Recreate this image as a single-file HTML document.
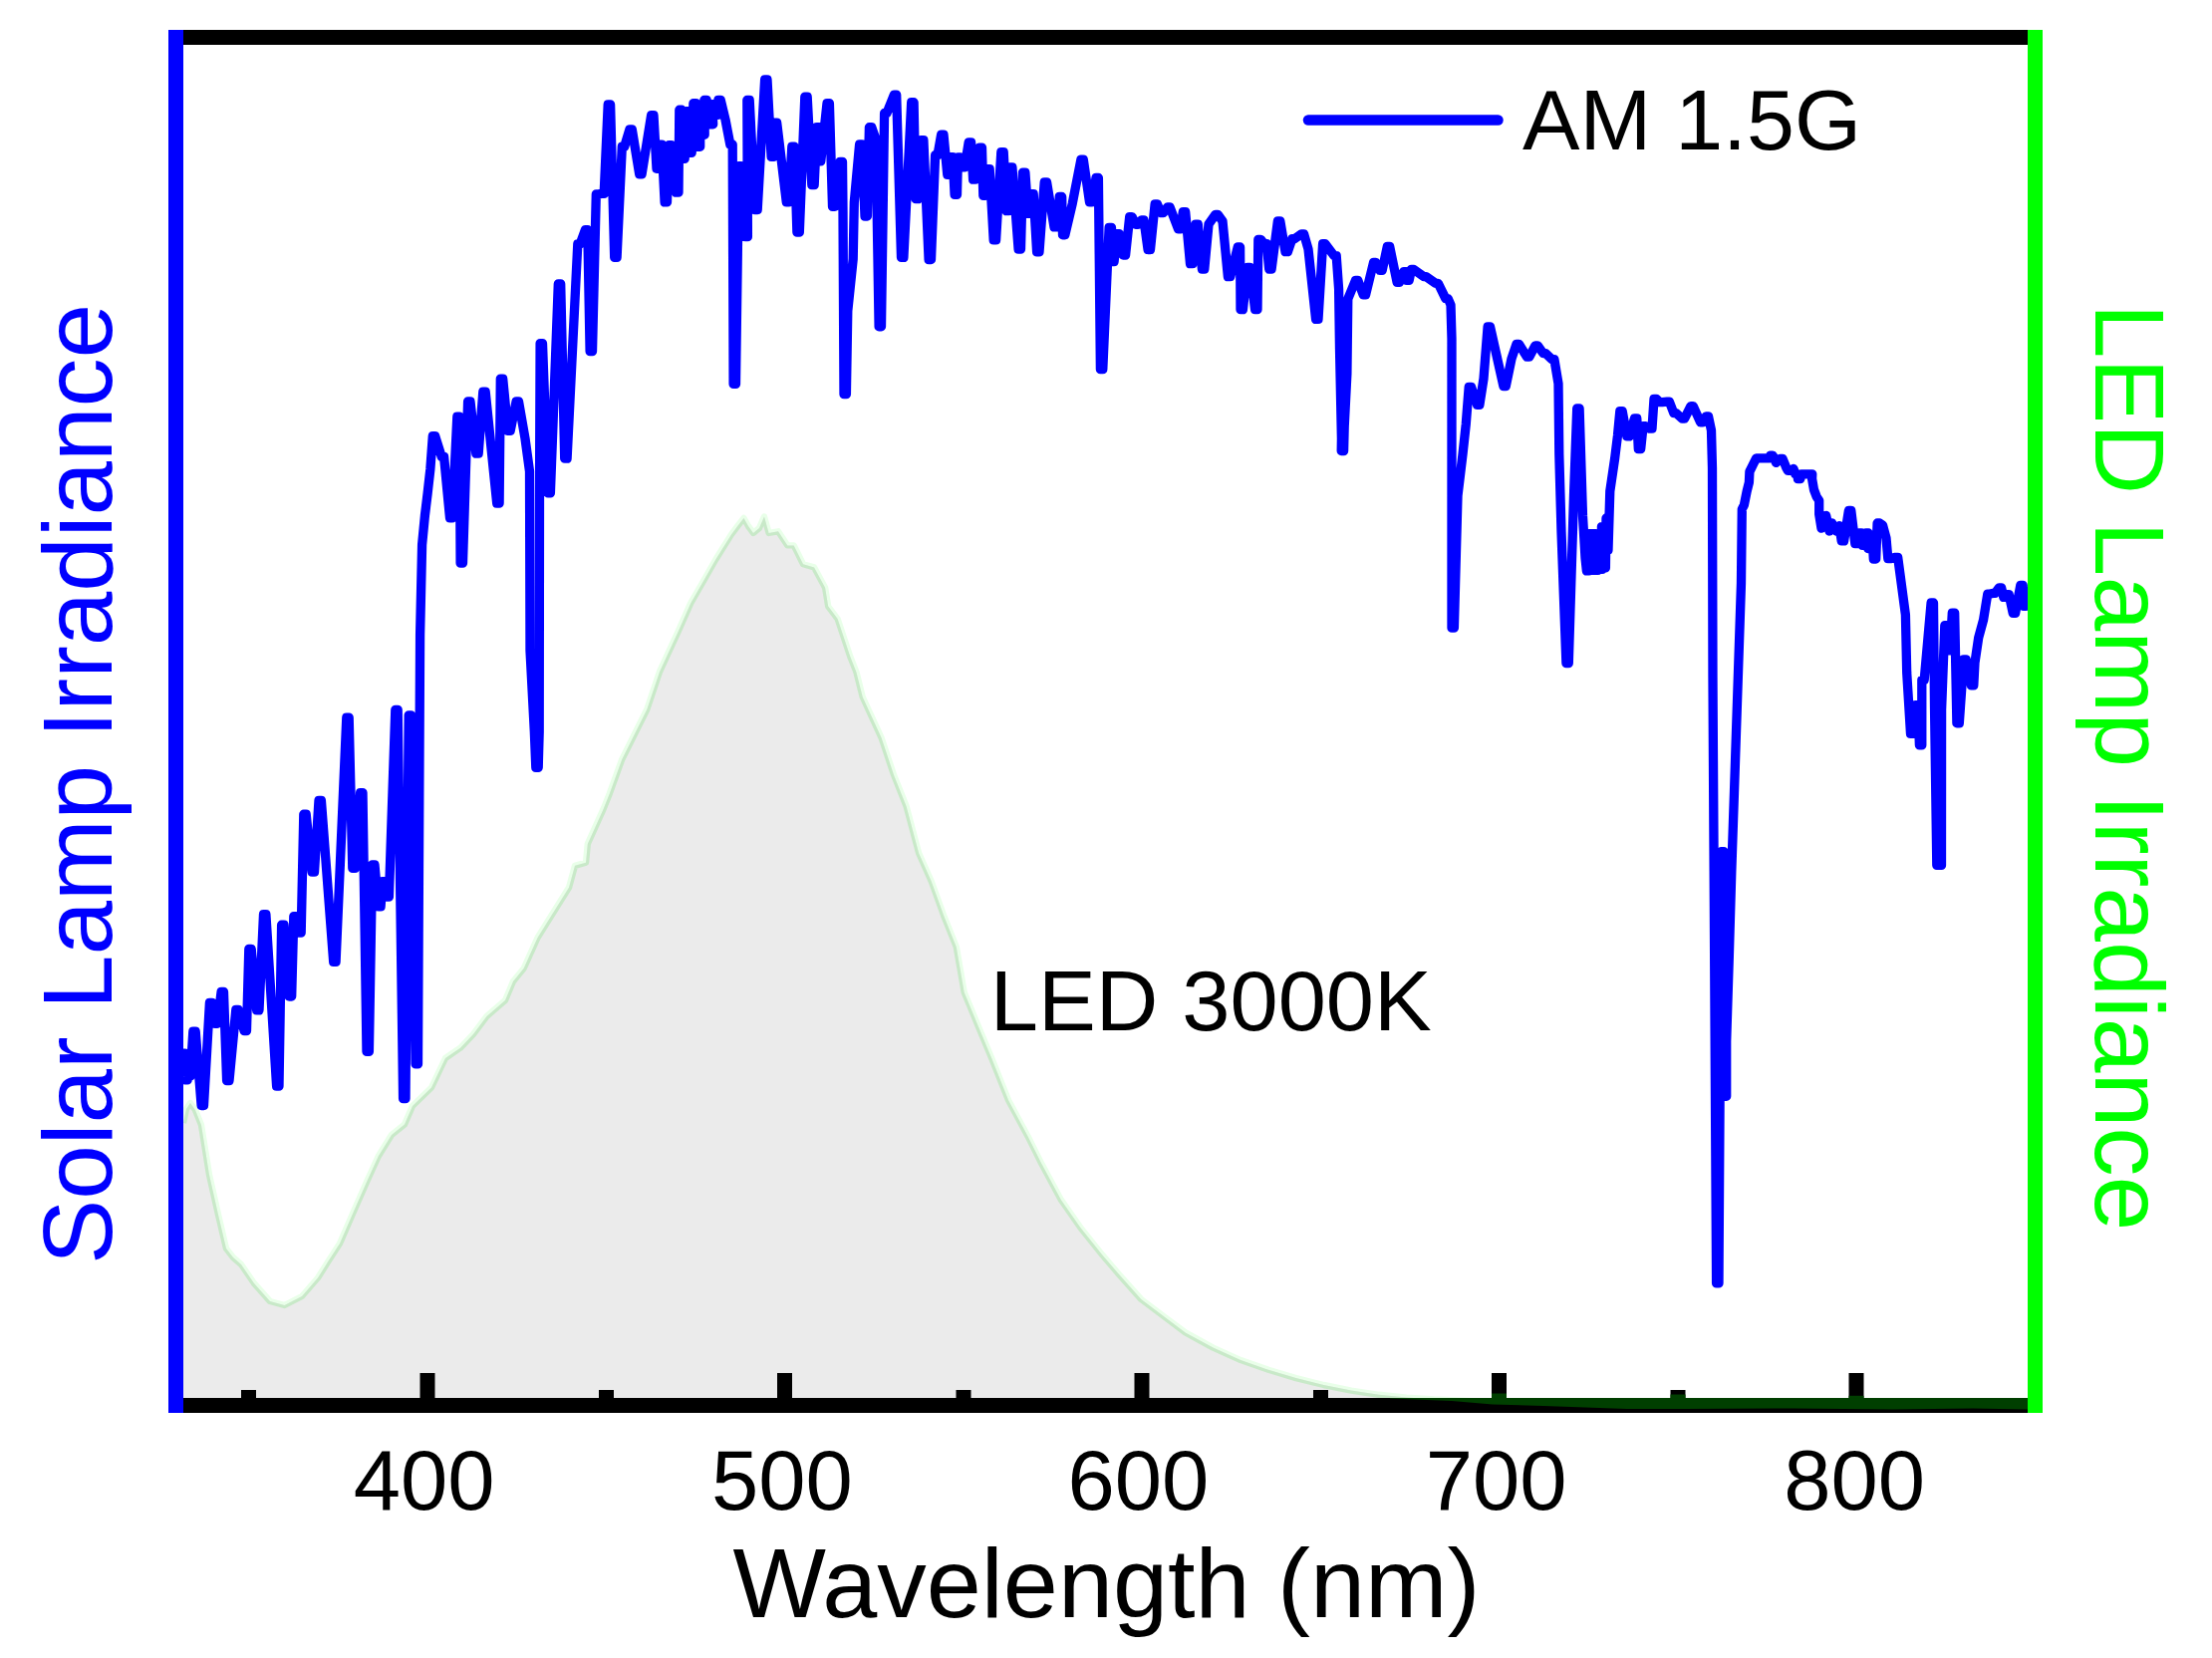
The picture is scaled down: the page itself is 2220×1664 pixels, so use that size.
<!DOCTYPE html>
<html lang="en"><head><meta charset="utf-8"><title>AM 1.5G vs LED 3000K spectrum</title>
<style>html,body{margin:0;padding:0;background:#fff;}body{width:2220px;height:1664px;overflow:hidden;}</style></head>
<body>
<svg width="2220" height="1664" viewBox="0 0 2220 1664" style="display:block">
<rect x="0" y="0" width="2220" height="1664" fill="#ffffff"/>
<defs><clipPath id="plot"><rect x="180" y="40" width="1860" height="1378"/></clipPath><clipPath id="under"><path d="M180,1127 L184.0,1127.0 L187.0,1113.0 L191.0,1107.0 L196.0,1114.0 L202.0,1129.0 L210.0,1179.0 L219.0,1219.0 L227.0,1253.0 L234.0,1262.0 L242.0,1269.0 L255.0,1288.0 L271.0,1306.0 L285.5,1310.0 L303.0,1301.0 L319.0,1282.5 L329.0,1266.6 L341.0,1248.0 L356.0,1213.5 L369.0,1184.0 L379.7,1160.5 L393.0,1139.0 L406.0,1128.6 L414.0,1110.0 L433.0,1091.5 L447.0,1062.0 L462.0,1051.7 L475.0,1038.0 L488.5,1020.0 L507.0,1004.0 L515.0,985.0 L525.6,972.0 L539.6,941.0 L571.0,890.8 L577.0,868.8 L588.0,865.7 L589.8,846.9 L605.4,812.4 L611.7,796.7 L624.2,762.2 L636.8,737.0 L649.3,712.0 L661.9,674.4 L680.7,633.7 L693.2,605.4 L705.8,583.5 L718.3,561.5 L734.0,536.4 L741.0,527.0 L746.5,520.0 L751.0,528.0 L756.0,534.9 L762.0,530.0 L767.0,518.5 L771.6,534.9 L781.0,533.3 L790.4,547.4 L796.7,547.4 L806.1,566.2 L817.1,569.4 L828.1,589.8 L831.2,608.6 L840.6,621.1 L853.2,658.7 L859.4,674.4 L865.7,699.5 L884.5,740.3 L897.1,777.9 L909.6,809.3 L922.1,856.3 L934.7,884.5 L947.2,919.0 L959.8,950.4 L967.7,996.0 L981.6,1029.4 L995.5,1062.7 L1012.1,1104.3 L1031.6,1140.4 L1045.4,1168.1 L1064.9,1204.2 L1084.3,1231.9 L1106.5,1259.7 L1123.1,1279.1 L1145.3,1304.0 L1167.5,1320.7 L1189.7,1337.4 L1217.5,1352.6 L1245.2,1365.1 L1273.0,1374.8 L1300.7,1383.1 L1328.5,1390.0 L1356.2,1395.6 L1384.0,1399.8 L1411.7,1402.6 L1439.5,1404.5 L1495.0,1407.0 L1600.0,1408.5 L1800.0,1409.0 L2036.0,1409.0 L2040,1409 L2040,1410 L180,1410 Z"/></clipPath></defs>
<g clip-path="url(#plot)">
<path d="M184.0,1127.0 L187.0,1113.0 L191.0,1107.0 L196.0,1114.0 L202.0,1129.0 L210.0,1179.0 L219.0,1219.0 L227.0,1253.0 L234.0,1262.0 L242.0,1269.0 L255.0,1288.0 L271.0,1306.0 L285.5,1310.0 L303.0,1301.0 L319.0,1282.5 L329.0,1266.6 L341.0,1248.0 L356.0,1213.5 L369.0,1184.0 L379.7,1160.5 L393.0,1139.0 L406.0,1128.6 L414.0,1110.0 L433.0,1091.5 L447.0,1062.0 L462.0,1051.7 L475.0,1038.0 L488.5,1020.0 L507.0,1004.0 L515.0,985.0 L525.6,972.0 L539.6,941.0 L571.0,890.8 L577.0,868.8 L588.0,865.7 L589.8,846.9 L605.4,812.4 L611.7,796.7 L624.2,762.2 L636.8,737.0 L649.3,712.0 L661.9,674.4 L680.7,633.7 L693.2,605.4 L705.8,583.5 L718.3,561.5 L734.0,536.4 L741.0,527.0 L746.5,520.0 L751.0,528.0 L756.0,534.9 L762.0,530.0 L767.0,518.5 L771.6,534.9 L781.0,533.3 L790.4,547.4 L796.7,547.4 L806.1,566.2 L817.1,569.4 L828.1,589.8 L831.2,608.6 L840.6,621.1 L853.2,658.7 L859.4,674.4 L865.7,699.5 L884.5,740.3 L897.1,777.9 L909.6,809.3 L922.1,856.3 L934.7,884.5 L947.2,919.0 L959.8,950.4 L967.7,996.0 L981.6,1029.4 L995.5,1062.7 L1012.1,1104.3 L1031.6,1140.4 L1045.4,1168.1 L1064.9,1204.2 L1084.3,1231.9 L1106.5,1259.7 L1123.1,1279.1 L1145.3,1304.0 L1167.5,1320.7 L1189.7,1337.4 L1217.5,1352.6 L1245.2,1365.1 L1273.0,1374.8 L1300.7,1383.1 L1328.5,1390.0 L1356.2,1395.6 L1384.0,1399.8 L1411.7,1402.6 L1439.5,1404.5 L1495.0,1407.0 L1600.0,1408.5 L1800.0,1409.0 L2036.0,1409.0" fill="none" stroke="#e9ffe9" stroke-width="6.4" stroke-linejoin="round"/>
<path d="M180,1127 L184.0,1127.0 L187.0,1113.0 L191.0,1107.0 L196.0,1114.0 L202.0,1129.0 L210.0,1179.0 L219.0,1219.0 L227.0,1253.0 L234.0,1262.0 L242.0,1269.0 L255.0,1288.0 L271.0,1306.0 L285.5,1310.0 L303.0,1301.0 L319.0,1282.5 L329.0,1266.6 L341.0,1248.0 L356.0,1213.5 L369.0,1184.0 L379.7,1160.5 L393.0,1139.0 L406.0,1128.6 L414.0,1110.0 L433.0,1091.5 L447.0,1062.0 L462.0,1051.7 L475.0,1038.0 L488.5,1020.0 L507.0,1004.0 L515.0,985.0 L525.6,972.0 L539.6,941.0 L571.0,890.8 L577.0,868.8 L588.0,865.7 L589.8,846.9 L605.4,812.4 L611.7,796.7 L624.2,762.2 L636.8,737.0 L649.3,712.0 L661.9,674.4 L680.7,633.7 L693.2,605.4 L705.8,583.5 L718.3,561.5 L734.0,536.4 L741.0,527.0 L746.5,520.0 L751.0,528.0 L756.0,534.9 L762.0,530.0 L767.0,518.5 L771.6,534.9 L781.0,533.3 L790.4,547.4 L796.7,547.4 L806.1,566.2 L817.1,569.4 L828.1,589.8 L831.2,608.6 L840.6,621.1 L853.2,658.7 L859.4,674.4 L865.7,699.5 L884.5,740.3 L897.1,777.9 L909.6,809.3 L922.1,856.3 L934.7,884.5 L947.2,919.0 L959.8,950.4 L967.7,996.0 L981.6,1029.4 L995.5,1062.7 L1012.1,1104.3 L1031.6,1140.4 L1045.4,1168.1 L1064.9,1204.2 L1084.3,1231.9 L1106.5,1259.7 L1123.1,1279.1 L1145.3,1304.0 L1167.5,1320.7 L1189.7,1337.4 L1217.5,1352.6 L1245.2,1365.1 L1273.0,1374.8 L1300.7,1383.1 L1328.5,1390.0 L1356.2,1395.6 L1384.0,1399.8 L1411.7,1402.6 L1439.5,1404.5 L1495.0,1407.0 L1600.0,1408.5 L1800.0,1409.0 L2036.0,1409.0 L2040,1409 L2040,1410 L180,1410 Z" fill="#ebebeb"/>
<path d="M184.0,1127.0 L187.0,1113.0 L191.0,1107.0 L196.0,1114.0 L202.0,1129.0 L210.0,1179.0 L219.0,1219.0 L227.0,1253.0 L234.0,1262.0 L242.0,1269.0 L255.0,1288.0 L271.0,1306.0 L285.5,1310.0 L303.0,1301.0 L319.0,1282.5 L329.0,1266.6 L341.0,1248.0 L356.0,1213.5 L369.0,1184.0 L379.7,1160.5 L393.0,1139.0 L406.0,1128.6 L414.0,1110.0 L433.0,1091.5 L447.0,1062.0 L462.0,1051.7 L475.0,1038.0 L488.5,1020.0 L507.0,1004.0 L515.0,985.0 L525.6,972.0 L539.6,941.0 L571.0,890.8 L577.0,868.8 L588.0,865.7 L589.8,846.9 L605.4,812.4 L611.7,796.7 L624.2,762.2 L636.8,737.0 L649.3,712.0 L661.9,674.4 L680.7,633.7 L693.2,605.4 L705.8,583.5 L718.3,561.5 L734.0,536.4 L741.0,527.0 L746.5,520.0 L751.0,528.0 L756.0,534.9 L762.0,530.0 L767.0,518.5 L771.6,534.9 L781.0,533.3 L790.4,547.4 L796.7,547.4 L806.1,566.2 L817.1,569.4 L828.1,589.8 L831.2,608.6 L840.6,621.1 L853.2,658.7 L859.4,674.4 L865.7,699.5 L884.5,740.3 L897.1,777.9 L909.6,809.3 L922.1,856.3 L934.7,884.5 L947.2,919.0 L959.8,950.4 L967.7,996.0 L981.6,1029.4 L995.5,1062.7 L1012.1,1104.3 L1031.6,1140.4 L1045.4,1168.1 L1064.9,1204.2 L1084.3,1231.9 L1106.5,1259.7 L1123.1,1279.1 L1145.3,1304.0 L1167.5,1320.7 L1189.7,1337.4 L1217.5,1352.6 L1245.2,1365.1 L1273.0,1374.8 L1300.7,1383.1 L1328.5,1390.0 L1356.2,1395.6 L1384.0,1399.8 L1411.7,1402.6 L1439.5,1404.5 L1495.0,1407.0 L1600.0,1408.5 L1800.0,1409.0 L2036.0,1409.0" fill="none" stroke="#c8e9c8" stroke-width="6.4" stroke-linejoin="round" clip-path="url(#under)"/>
</g>
<rect x="184" y="1403" width="1852" height="15" fill="#000"/>
<rect x="421.5" y="1378" width="15" height="26" fill="#000"/>
<rect x="780.0" y="1378" width="15" height="26" fill="#000"/>
<rect x="1138.5" y="1378" width="15" height="26" fill="#000"/>
<rect x="1497.0" y="1378" width="15" height="26" fill="#000"/>
<rect x="1855.5" y="1378" width="15" height="26" fill="#000"/>
<rect x="242.0" y="1395" width="15" height="9" fill="#000"/>
<rect x="601.0" y="1395" width="15" height="9" fill="#000"/>
<rect x="959.5" y="1395" width="15" height="9" fill="#000"/>
<rect x="1318.0" y="1395" width="15" height="9" fill="#000"/>
<rect x="1676.5" y="1395" width="15" height="9" fill="#000"/>
<path d="M1395,1403 L2036,1403 L2036,1414.5 L1980,1413.5 L1900,1414.5 L1800,1413.5 L1690,1414 L1633,1414 L1549,1411 L1498,1409.5 L1457,1406 L1395,1403.5 Z" fill="#003f00"/>
<rect x="1497" y="1398.5" width="15" height="5" fill="#003f00"/>
<rect x="1676.5" y="1399.5" width="15" height="4" fill="#003f00"/>
<rect x="1855.5" y="1400.8" width="15" height="2.7" fill="#003f00"/>
<g clip-path="url(#plot)">
<path d="M182.0,1080.0 L183.3,1057.2 L185.7,1057.2 L185.8,1083.9 L188.2,1083.9 L188.3,1058.7 L190.7,1058.7 L191.0,1080.0 L193.8,1035.2 L196.2,1035.2 L202.1,1109.5 L204.5,1109.5 L210.4,1006.5 L212.8,1006.5 L215.8,1027.3 L218.2,1027.3 L222.1,995.4 L224.5,995.4 L227.6,1084.6 L230.0,1084.6 L236.8,1013.4 L239.2,1013.4 L245.1,1034.6 L247.5,1034.6 L249.8,952.4 L252.2,952.4 L257.6,1013.9 L260.0,1013.9 L264.5,917.6 L266.9,917.6 L277.6,1090.1 L280.0,1090.1 L282.6,928.2 L285.0,928.2 L290.3,1000.0 L292.7,1000.0 L294.8,919.6 L297.2,919.6 L299.8,936.1 L302.2,936.1 L304.8,817.2 L307.2,817.2 L313.1,875.1 L315.5,875.1 L320.0,803.4 L322.4,803.4 L334.7,965.4 L337.1,965.4 L347.8,720.1 L350.2,720.1 L353.8,871.4 L356.2,871.4 L361.6,795.6 L364.0,795.6 L368.0,1055.4 L370.4,1055.4 L373.6,867.8 L376.0,867.8 L379.7,909.9 L382.1,909.9 L383.8,884.6 L386.2,884.6 L388.0,900.1 L390.4,900.1 L396.8,712.4 L399.2,712.4 L404.6,1102.6 L407.0,1102.6 L410.2,717.9 L412.6,717.9 L417.1,1067.9 L419.5,1067.9 L421.6,637.0 L423.6,546.7 L426.4,517.6 L429.1,495.4 L431.9,470.4 L434.3,437.6 L436.7,437.6 L443.2,458.4 L445.6,458.4 L451.5,519.9 L453.9,519.9 L458.8,418.1 L461.2,418.1 L462.1,565.1 L464.5,565.1 L469.6,402.9 L472.0,402.9 L477.8,455.2 L480.2,455.2 L484.8,393.2 L487.2,393.2 L498.7,505.2 L501.1,505.2 L502.3,380.1 L504.7,380.1 L509.8,432.4 L512.2,432.4 L518.1,402.9 L520.5,402.9 L527.0,440.0 L531.5,473.0 L532.0,653.0 L536.3,734.0 L537.8,770.4 L540.2,770.4 L541.2,734.0 L541.5,498.0 L542.1,344.6 L544.5,344.6 L550.0,494.9 L552.4,494.9 L560.3,284.9 L562.7,284.9 L566.7,460.2 L569.1,460.2 L579.8,244.8 L582.2,244.8 L587.4,230.7 L589.8,230.7 L592.1,352.7 L594.5,352.7 L598.3,194.8 L600.7,194.8 L603.8,194.3 L606.2,194.3 L610.2,104.9 L612.6,104.9 L616.7,258.4 L619.1,258.4 L624.3,147.2 L626.7,147.2 L631.9,129.8 L634.3,129.8 L641.7,174.8 L644.1,174.8 L653.6,115.7 L656.0,115.7 L659.0,169.3 L661.4,169.3 L661.8,145.1 L664.2,145.1 L667.1,202.9 L669.5,202.9 L671.3,145.7 L673.7,145.7 L678.6,193.2 L681.0,193.2 L681.8,110.2 L684.2,110.2 L684.8,159.3 L687.2,159.3 L688.8,111.7 L691.2,111.7 L691.8,153.3 L694.2,153.3 L695.9,103.7 L698.3,103.7 L700.3,147.3 L702.7,147.3 L702.8,105.7 L705.2,105.7 L704.8,135.3 L707.2,135.3 L706.8,100.5 L709.2,100.5 L713.3,124.8 L715.7,124.8 L714.8,104.7 L717.2,104.7 L717.8,115.3 L720.2,115.3 L720.9,100.5 L723.3,100.5 L728.0,120.0 L732.8,145.0 L735.2,145.0 L736.1,385.4 L738.5,385.4 L741.5,166.7 L743.9,166.7 L748.0,237.7 L750.4,237.7 L749.8,100.5 L752.2,100.5 L757.8,210.5 L760.2,210.5 L767.6,79.9 L770.0,79.9 L774.1,157.3 L776.5,157.3 L777.3,123.2 L779.7,123.2 L789.3,202.9 L791.7,202.9 L794.8,147.2 L797.2,147.2 L799.9,233.2 L802.3,233.2 L807.8,97.2 L810.2,97.2 L814.8,185.5 L817.2,185.5 L819.8,127.7 L822.2,127.7 L821.4,161.8 L823.8,161.8 L830.0,103.7 L832.4,103.7 L835.5,207.3 L837.9,207.3 L843.1,162.3 L845.5,162.3 L846.0,212.0 L847.0,395.7 L849.4,395.7 L850.8,312.0 L856.2,260.0 L857.3,203.0 L862.6,145.0 L865.0,145.0 L868.0,217.0 L870.4,217.0 L872.4,127.7 L874.8,127.7 L879.0,140.0 L882.1,327.8 L884.5,327.8 L887.6,113.5 L890.0,113.5 L897.3,95.1 L899.7,95.1 L904.5,258.4 L906.9,258.4 L914.7,102.7 L917.1,102.7 L919.0,199.7 L921.4,199.7 L924.5,140.7 L926.9,140.7 L932.1,260.5 L934.5,260.5 L938.6,155.7 L941.0,155.7 L944.6,135.2 L947.0,135.2 L950.8,175.3 L953.2,175.3 L953.8,157.7 L956.2,157.7 L958.1,195.3 L960.5,195.3 L961.4,158.0 L963.8,158.0 L965.8,167.8 L968.2,167.8 L972.2,142.8 L974.6,142.8 L976.6,180.2 L979.0,180.2 L983.1,148.2 L985.5,148.2 L986.8,196.3 L989.2,196.3 L990.8,169.7 L993.2,169.7 L997.2,240.9 L999.6,240.9 L1004.8,152.6 L1007.2,152.6 L1010.2,211.7 L1012.6,211.7 L1013.5,167.8 L1015.9,167.8 L1022.1,250.2 L1024.5,250.2 L1026.5,173.2 L1028.9,173.2 L1031.8,214.3 L1034.2,214.3 L1034.8,194.7 L1037.2,194.7 L1040.6,252.8 L1043.0,252.8 L1048.2,183.0 L1050.6,183.0 L1058.0,227.9 L1060.4,227.9 L1063.3,197.5 L1065.7,197.5 L1066.5,235.8 L1068.9,235.8 L1076.3,204.2 L1084.9,160.1 L1087.3,160.1 L1093.5,202.8 L1095.9,202.8 L1100.0,178.5 L1102.4,178.5 L1104.4,370.6 L1106.8,370.6 L1113.1,228.3 L1115.5,228.3 L1115.7,262.5 L1118.1,262.5 L1120.8,234.7 L1123.2,234.7 L1127.2,256.0 L1129.6,256.0 L1133.7,217.6 L1136.1,217.6 L1139.8,225.3 L1142.2,225.3 L1145.6,220.8 L1148.0,220.8 L1152.1,250.5 L1154.5,250.5 L1159.1,205.0 L1161.5,205.0 L1165.2,213.7 L1167.6,213.7 L1171.7,207.8 L1174.1,207.8 L1182.5,229.9 L1184.9,229.9 L1187.3,212.6 L1189.7,212.6 L1194.5,264.7 L1196.9,264.7 L1199.9,225.2 L1202.3,225.2 L1206.4,270.1 L1208.8,270.1 L1213.0,225.0 L1219.9,215.3 L1222.3,215.3 L1227.0,222.0 L1232.4,277.7 L1234.8,277.7 L1242.2,248.0 L1244.6,248.0 L1245.0,310.7 L1247.4,310.7 L1252.0,268.5 L1254.4,268.5 L1259.6,310.7 L1262.0,310.7 L1262.8,240.3 L1265.2,240.3 L1268.8,244.7 L1271.2,244.7 L1273.7,270.1 L1276.1,270.1 L1282.4,221.8 L1284.8,221.8 L1290.0,252.7 L1292.4,252.7 L1296.8,239.7 L1299.2,239.7 L1306.2,234.8 L1308.6,234.8 L1313.0,250.0 L1320.6,320.4 L1323.0,320.4 L1327.6,244.7 L1330.0,244.7 L1338.8,256.6 L1341.2,256.6 L1343.6,290.0 L1344.5,350.0 L1346.4,440.0 L1346.2,452.6 L1348.6,452.6 L1349.2,428.0 L1351.9,375.0 L1352.8,300.0 L1360.4,281.5 L1362.8,281.5 L1368.2,295.9 L1370.6,295.9 L1378.5,263.5 L1380.9,263.5 L1384.8,271.4 L1387.2,271.4 L1392.3,247.5 L1394.7,247.5 L1402.1,283.4 L1404.5,283.4 L1408.8,272.6 L1411.2,272.6 L1411.8,281.4 L1414.2,281.4 L1416.5,270.4 L1418.9,270.4 L1428.8,277.6 L1431.2,277.6 L1440.9,284.3 L1443.3,284.3 L1450.8,299.6 L1453.2,299.6 L1456.0,306.0 L1457.0,340.0 L1457.0,630.2 L1459.4,630.2 L1463.0,497.5 L1468.0,456.0 L1471.3,425.4 L1474.2,388.4 L1476.6,388.4 L1482.5,406.4 L1484.9,406.4 L1489.0,380.0 L1493.1,327.8 L1495.5,327.8 L1508.9,387.5 L1511.3,387.5 L1517.0,360.0 L1522.0,345.3 L1524.4,345.3 L1532.5,358.2 L1534.9,358.2 L1540.8,346.8 L1543.2,346.8 L1548.8,354.6 L1551.2,354.6 L1557.5,360.6 L1559.9,360.6 L1564.0,385.0 L1564.8,456.0 L1567.0,533.6 L1571.9,665.6 L1574.3,665.6 L1579.5,497.5 L1582.7,409.8 L1585.1,409.8 L1588.5,518.0 L1591.0,560.0 L1592.4,572.9 L1594.8,572.9 L1594.8,535.6 L1597.2,535.6 L1597.0,572.4 L1599.4,572.4 L1599.2,535.6 L1601.6,535.6 L1601.4,572.4 L1603.8,572.4 L1603.6,535.6 L1606.0,535.6 L1605.8,571.4 L1608.2,571.4 L1607.4,528.6 L1609.8,528.6 L1609.0,569.9 L1611.4,569.9 L1612.0,520.0 L1614.0,552.0 L1615.8,493.0 L1620.7,459.7 L1623.5,437.0 L1625.8,412.6 L1628.2,412.6 L1632.8,437.9 L1635.2,437.9 L1640.4,420.0 L1642.8,420.0 L1644.3,450.5 L1646.7,450.5 L1649.1,427.6 L1651.5,427.6 L1655.6,430.2 L1658.0,430.2 L1660.0,400.4 L1662.4,400.4 L1665.8,403.6 L1668.2,403.6 L1673.0,403.2 L1675.4,403.2 L1679.8,414.6 L1682.2,414.6 L1688.2,420.1 L1690.6,420.1 L1696.9,407.6 L1699.3,407.6 L1706.6,423.8 L1709.0,423.8 L1712.1,417.8 L1714.5,417.8 L1717.5,432.0 L1718.5,470.0 L1719.0,680.0 L1722.6,1287.9 L1725.0,1287.9 L1727.6,854.6 L1730.0,854.6 L1730.3,1100.3 L1732.7,1100.3 L1732.7,1045.0 L1735.4,958.0 L1737.8,875.0 L1740.5,795.0 L1743.5,705.0 L1747.5,585.0 L1748.3,511.0 L1750.4,506.9 L1753.1,493.3 L1755.4,484.2 L1755.9,473.4 L1759.4,466.2 L1762.6,459.8 L1776.2,459.8 L1776.8,457.2 L1779.2,457.2 L1782.5,464.4 L1786.7,460.4 L1789.1,460.4 L1793.0,470.0 L1794.4,472.4 L1796.8,472.4 L1800.0,470.5 L1801.8,475.8 L1804.2,475.8 L1804.4,480.6 L1806.8,480.6 L1807.8,475.8 L1810.2,475.8 L1816.4,475.8 L1818.8,475.8 L1818.6,480.6 L1820.5,491.5 L1823.2,498.7 L1825.7,502.3 L1825.7,515.9 L1828.0,530.2 L1832.7,517.4 L1836.0,533.0 L1838.6,525.0 L1843.0,533.0 L1846.0,527.6 L1848.2,542.9 L1850.6,542.9 L1855.4,512.5 L1857.8,512.5 L1861.8,545.6 L1864.2,545.6 L1865.8,535.0 L1868.2,535.0 L1869.3,547.4 L1871.7,547.4 L1872.8,535.0 L1875.2,535.0 L1874.8,550.6 L1877.2,550.6 L1876.8,539.9 L1879.2,539.9 L1880.3,561.0 L1882.7,561.0 L1884.1,525.0 L1886.5,525.0 L1889.5,527.0 L1893.0,540.0 L1894.8,560.6 L1897.2,560.6 L1902.3,559.4 L1904.7,559.4 L1912.4,616.9 L1913.7,675.0 L1917.5,736.4 L1919.9,736.4 L1922.6,707.6 L1925.0,707.6 L1926.4,747.9 L1928.8,747.9 L1928.8,682.4 L1931.2,682.4 L1938.1,605.0 L1940.5,605.0 L1941.5,708.0 L1943.8,868.4 L1946.2,868.4 L1946.1,868.4 L1948.5,868.4 L1948.6,712.0 L1951.8,627.6 L1954.2,627.6 L1954.8,652.8 L1957.2,652.8 L1959.3,615.1 L1961.7,615.1 L1963.9,725.8 L1966.3,725.8 L1970.8,662.0 L1973.2,662.0 L1978.4,687.8 L1980.8,687.8 L1982.0,665.0 L1985.7,640.0 L1990.6,622.0 L1993.5,604.0 L1994.8,596.1 L1997.2,596.1 L1999.8,595.4 L2002.2,595.4 L2006.2,589.9 L2008.6,589.9 L2010.8,599.4 L2013.2,599.4 L2013.8,596.6 L2016.2,596.6 L2020.2,615.4 L2022.6,615.4 L2027.8,587.4 L2030.2,587.4 L2030.8,608.4 L2033.2,608.4 L2033.8,593.6 L2036.2,593.6 L2037.3,608.4 L2039.7,608.4" fill="none" stroke="#0000ff" stroke-width="9.3" stroke-linejoin="round" stroke-linecap="butt"/>
</g>
<rect x="184" y="30" width="1852" height="15" fill="#000"/>
<rect x="169" y="30" width="15" height="1388" fill="#0000ff"/>
<rect x="2035" y="30" width="15" height="1388" fill="#00ff00"/>
<line x1="1313" y1="120.5" x2="1503.5" y2="120.5" stroke="#0000ff" stroke-width="10.5" stroke-linecap="round"/>
<text x="1528" y="149.5" textLength="340" lengthAdjust="spacingAndGlyphs" font-family="'Liberation Sans', sans-serif" font-size="84.5" fill="#000">AM 1.5G</text>
<text x="993.8" y="1034.2" textLength="443" lengthAdjust="spacingAndGlyphs" font-family="'Liberation Sans', sans-serif" font-size="84.5" fill="#000">LED 3000K</text>
<text x="425.7" y="1515" text-anchor="middle" font-family="'Liberation Sans', sans-serif" font-size="85" fill="#000">400</text>
<text x="785.0" y="1515" text-anchor="middle" font-family="'Liberation Sans', sans-serif" font-size="85" fill="#000">500</text>
<text x="1142.5" y="1515" text-anchor="middle" font-family="'Liberation Sans', sans-serif" font-size="85" fill="#000">600</text>
<text x="1501.7" y="1515" text-anchor="middle" font-family="'Liberation Sans', sans-serif" font-size="85" fill="#000">700</text>
<text x="1861.2" y="1515" text-anchor="middle" font-family="'Liberation Sans', sans-serif" font-size="85" fill="#000">800</text>
<text x="1110.5" y="1623" text-anchor="middle" font-family="'Liberation Sans', sans-serif" font-size="99" fill="#000">Wavelength (nm)</text>
<text transform="translate(112,787) rotate(-90)" text-anchor="middle" font-family="'Liberation Sans', sans-serif" font-size="98" fill="#0000ff">Solar Lamp Irradiance</text>
<text transform="translate(2103,770) rotate(90)" text-anchor="middle" font-family="'Liberation Sans', sans-serif" font-size="98.5" fill="#00ff00">LED Lamp Irradiance</text>
</svg>
</body></html>
